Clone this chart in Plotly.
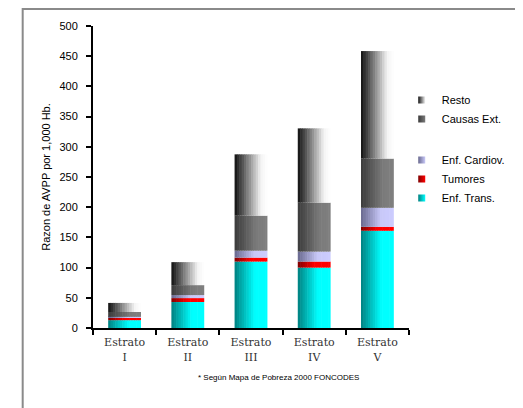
import plotly.graph_objects as go

# ---------------- data ----------------
categories = ["Estrato<br>I", "Estrato<br>II", "Estrato<br>III", "Estrato<br>IV", "Estrato<br>V"]
enf_trans = [13, 43, 110, 100, 161]
tumores = [4, 6.5, 6.5, 10, 6.5]
enf_cardiov = [1.5, 5, 11.5, 16.5, 31.5]
causas_ext = [8, 16.5, 58, 81, 81.5]
resto = [15, 38, 101.5, 123, 178]

series_names = ["Enf. Trans.", "Tumores", "Enf. Cardiov.", "Causas Ext.", "Resto"]
series_values = [enf_trans, tumores, enf_cardiov, causas_ext, resto]
legend_order = ["Resto", "Causas Ext.", "Enf. Cardiov.", "Tumores", "Enf. Trans."]
y_ticks = [0, 50, 100, 150, 200, 250, 300, 350, 400, 450, 500]

# ---------------- styles ----------------
gradients = {
    "Enf. Trans.": [(0, "#008080"), (0.62, "#00ffff"), (1, "#00ffff")],
    "Tumores": [(0, "#800000"), (0.5, "#ff0000"), (1, "#ff0000")],
    "Enf. Cardiov.": [(0, "#68688e"), (0.6, "#c8c8f8"), (1, "#ccccff")],
    "Causas Ext.": [(0, "#3a3a3a"), (0.65, "#7a7a7a"), (1, "#808080")],
    "Resto": [(0, "#101010"), (0.8, "#f4f4f4"), (1, "#ffffff")],
}
legend_group = {"Enf. Trans.": "g2", "Tumores": "g2", "Enf. Cardiov.": "g2",
                "Causas Ext.": "g1", "Resto": "g1"}
N_SLICES = 14
BAR_W = 0.52


def hex_to_rgb(h):
    h = h.lstrip("#")
    return tuple(int(h[i:i + 2], 16) for i in (0, 2, 4))


def interp(stops, t):
    for (t0, c0), (t1, c1) in zip(stops[:-1], stops[1:]):
        if t0 <= t <= t1:
            f = 0 if t1 == t0 else (t - t0) / (t1 - t0)
            a, b = hex_to_rgb(c0), hex_to_rgb(c1)
            r = [round(a[k] + (b[k] - a[k]) * f) for k in range(3)]
            return "rgb(%d,%d,%d)" % tuple(r)
    return stops[-1][1]


fig = go.Figure()

slice_w = BAR_W / N_SLICES
base = [0] * len(categories)
for name, vals in zip(series_names, series_values):
    stops = gradients[name]
    for i in range(N_SLICES):
        start = -BAR_W / 2 + i * slice_w
        w = slice_w if i == N_SLICES - 1 else slice_w * 1.25
        fig.add_trace(go.Bar(
            x=categories, y=vals, base=base,
            offset=start, width=w,
            marker=dict(color=interp(stops, (i + 0.5) / N_SLICES), line=dict(width=0)),
            showlegend=False, hoverinfo="skip",
        ))
    base = [b + v for b, v in zip(base, vals)]

# legend entries
for name in legend_order:
    stops = gradients[name]
    fig.add_trace(go.Scatter(
        x=[None], y=[None], mode="markers", name=name,
        legendgroup=legend_group[name],
        marker=dict(symbol="square", size=7, color=stops[0][1],
                    gradient=dict(type="horizontal", color=stops[-2][1]),
                    line=dict(width=0)),
    ))

fig.update_layout(
    width=523, height=408,
    margin=dict(l=85, r=122, t=18, b=88, autoexpand=False),
    paper_bgcolor="white", plot_bgcolor="white",
    barmode="overlay",
    font=dict(family="Liberation Sans, Arial, sans-serif", size=11, color="black"),
    showlegend=True,
    legend=dict(
        x=0.977, y=0.8027, xanchor="left", yanchor="top",
        traceorder="grouped", tracegroupgap=22,
        itemwidth=30, font=dict(size=11),
        bgcolor="rgba(0,0,0,0)",
    ),
    xaxis=dict(
        type="category", range=[-0.5, 4.5], automargin=False,
        showline=True, linecolor="black", linewidth=2,
        ticks="outside", tickson="boundaries", ticklen=5, tickwidth=2, tickcolor="black",
        ticklabelstandoff=3,
        tickfont=dict(family="DejaVu Serif, serif", size=11, color="#333"),
        showgrid=False, zeroline=False,
    ),
    yaxis=dict(
        range=[0, 500], tickvals=y_ticks, automargin=False,
        showline=True, linecolor="black", linewidth=2,
        ticks="outside", ticklen=5, tickwidth=2, tickcolor="black",
        ticklabelstandoff=6,
        tickfont=dict(size=11),
        showgrid=False, zeroline=False,
        title=dict(text="Razon de AVPP por 1,000 Hb.", font=dict(size=11), standoff=7),
    ),
    shapes=[dict(type="rect", xref="paper", yref="paper",
                 x0=-0.2225, x1=1.5, y0=-0.5, y1=1.0564,
                 line=dict(color="#8a8a8a", width=2), fillcolor="rgba(0,0,0,0)")],
    annotations=[dict(text="* Según Mapa de Pobreza 2000 FONCODES",
                      xref="paper", yref="paper", x=0.588, y=-0.163,
                      xanchor="center", yanchor="middle", showarrow=False,
                      font=dict(size=8))],
)

fig.write_html("out.html")
